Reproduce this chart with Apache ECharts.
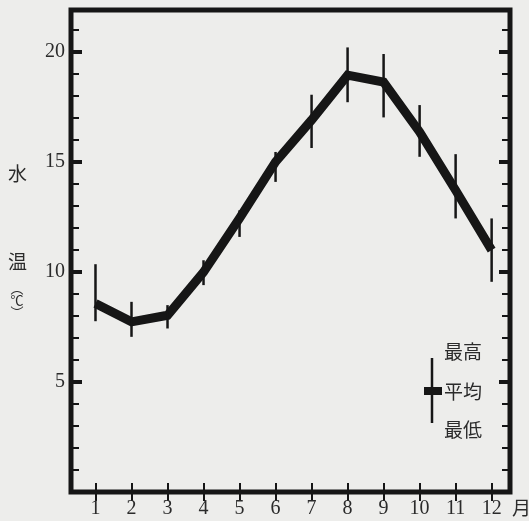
<!DOCTYPE html>
<html>
<head>
<meta charset="utf-8">
<script src="https://cdn.jsdelivr.net/npm/echarts@6/dist/echarts.min.js"></script>
<style>
  html, body { margin: 0; padding: 0; background: #ededeb; }
  #chart { width: 529px; height: 521px; }
</style>
</head>
<body>
<div id="chart"></div>
<script>
const months = [1, 2, 3, 4, 5, 6, 7, 8, 9, 10, 11, 12];
const meanTemp = [8.56, 7.73, 8.03, 9.99, 12.44, 15.0, 16.9, 18.94, 18.62, 16.36, 13.71, 10.99];
const maxTemp  = [10.35, 8.64, 8.49, 10.53, 12.8, 15.45, 18.05, 20.2, 19.9, 17.58, 15.35, 12.43];
const minTemp  = [7.76, 7.05, 7.43, 9.4, 11.59, 14.09, 15.63, 17.71, 17.02, 15.23, 12.43, 9.55];
const yMajorTicks = [5, 10, 15, 20];
const yMinorTicks = [1, 2, 3, 4, 6, 7, 8, 9, 11, 12, 13, 14, 16, 17, 18, 19, 21];
const yTitle = ['水', '温'];
const unitMarks = ['︵', '℃', '︶'];
const legendLabels = ['最高', '平均', '最低'];
const xUnit = '月';

const INK = '#161616';
const TXT = '#2b2b2b';
const SERIF = '"Liberation Serif", "DejaVu Serif", serif';
const CJK = '"Noto Sans CJK JP", sans-serif';

const X_MIN = 0.32, X_MAX = 12.51, Y_MIN = 0, Y_MAX = 21.9;

function xAxisDef(pos, labels) {
  return {
    type: 'value', position: pos, min: X_MIN, max: X_MAX,
    axisLine: { show: false },
    axisTick: { show: true, inside: true, length: 9, customValues: months, lineStyle: { color: INK, width: 2 } },
    axisLabel: labels ? { show: true, customValues: months, fontSize: 20, fontFamily: SERIF, color: TXT, margin: 7 } : { show: false },
    splitLine: { show: false }
  };
}
function yAxisDef(pos, ticks, len, w, labels) {
  return {
    type: 'value', position: pos, min: Y_MIN, max: Y_MAX,
    axisLine: { show: false },
    axisTick: { show: true, inside: true, length: len, customValues: ticks, lineStyle: { color: INK, width: w } },
    axisLabel: labels ? { show: true, customValues: yMajorTicks, fontSize: 20, fontFamily: SERIF, color: TXT, margin: 6 } : { show: false },
    splitLine: { show: false }
  };
}

const chart = echarts.init(document.getElementById('chart'), null, { renderer: 'canvas' });

const graphics = [];
graphics.push({ type: 'text', left: 8, top: 164, style: { text: yTitle[0], font: '19px ' + CJK, fill: TXT } });
graphics.push({ type: 'text', left: 8, top: 252, style: { text: yTitle[1], font: '19px ' + CJK, fill: TXT } });
unitMarks.forEach((t, i) => {
  graphics.push({ type: 'text', x: 17, y: 288 + i * 12, style: { text: t, font: '13px ' + CJK, fill: TXT, align: 'center', verticalAlign: 'middle' } });
});
graphics.push({ type: 'text', x: 512, y: 508, style: { text: xUnit, font: '19px ' + CJK, fill: TXT, align: 'left', verticalAlign: 'middle' } });
// legend sample
graphics.push({ type: 'line', shape: { x1: 432, y1: 358, x2: 432, y2: 423 }, style: { stroke: INK, lineWidth: 2.5 } });
graphics.push({ type: 'rect', shape: { x: 424, y: 387, width: 18, height: 8 }, style: { fill: INK } });
legendLabels.forEach((t, i) => {
  graphics.push({ type: 'text', x: 444, y: [352, 392, 430][i], style: { text: t, font: '19px ' + CJK, fill: TXT, align: 'left', verticalAlign: 'middle' } });
});

chart.setOption({
  backgroundColor: '#ededeb',
  animation: false,
  grid: { left: 71, right: 19, top: 10, bottom: 29, show: true, borderWidth: 5, borderColor: INK, backgroundColor: 'transparent' },
  xAxis: [xAxisDef('bottom', true), xAxisDef('top', false)],
  yAxis: [
    yAxisDef('left', yMajorTicks, 11, 4, true),
    yAxisDef('left', yMinorTicks, 8, 2, false),
    yAxisDef('right', yMajorTicks, 11, 4, false),
    yAxisDef('right', yMinorTicks, 8, 2, false)
  ],
  series: [
    {
      type: 'line',
      data: months.map((m, i) => [m, meanTemp[i]]),
      xAxisIndex: 0, yAxisIndex: 0,
      symbol: 'none',
      lineStyle: { color: INK, width: 9, join: 'miter', miterLimit: 4 },
      z: 3
    },
    {
      type: 'custom',
      xAxisIndex: 0, yAxisIndex: 0,
      data: months.map((m, i) => [m, maxTemp[i], minTemp[i]]),
      encode: { x: 0, y: [1, 2] },
      clip: false,
      renderItem: function (params, api) {
        const x = api.value(0);
        const top = api.coord([x, api.value(1)]);
        const bot = api.coord([x, api.value(2)]);
        return { type: 'line', shape: { x1: top[0], y1: top[1], x2: bot[0], y2: bot[1] }, style: { stroke: INK, lineWidth: 2.5 } };
      },
      z: 4
    }
  ],
  graphic: graphics
});
</script>
</body>
</html>
